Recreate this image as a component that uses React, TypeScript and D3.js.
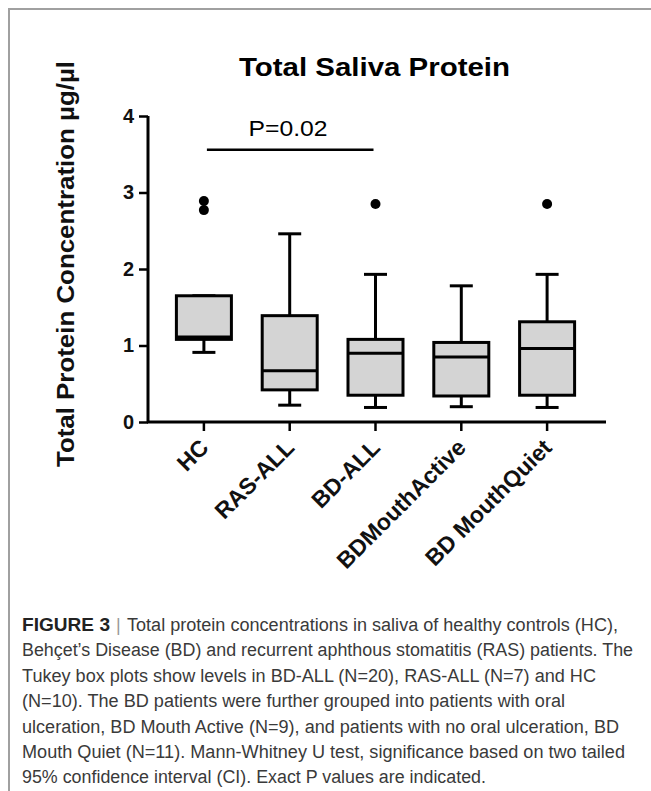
import React, { useEffect, useRef } from "react";
import * as d3 from "d3";

// groups and box summary values (µg/µl)
const groups = ["HC", "RAS-ALL", "BD-ALL", "BDMouthActive", "BD MouthQuiet"];
const lowWhisker = [0.91, 0.22, 0.19, 0.2, 0.19];
const q1 = [1.08, 0.42, 0.35, 0.34, 0.35];
const median = [1.11, 0.67, 0.9, 0.85, 0.96];
const q3 = [1.65, 1.39, 1.08, 1.04, 1.31];
const highWhisker = [1.65, 2.46, 1.93, 1.78, 1.93];
const outliers = [[2.77, 2.89], [], [2.85], [], [2.85]];
const yTicks = [0, 1, 2, 3, 4];

const sigFrom = "HC";
const sigTo = "BD-ALL";
const sigY = 3.56;
const sigLabel = "P=0.02";

const captionHead = "FIGURE 3";
const captionLines = [
  "Total protein concentrations in saliva of healthy controls (HC),",
  "Behçet’s Disease (BD) and recurrent aphthous stomatitis (RAS) patients. The",
  "Tukey box plots show levels in BD-ALL (N=20), RAS-ALL (N=7) and HC",
  "(N=10). The BD patients were further grouped into patients with oral",
  "ulceration, BD Mouth Active (N=9), and patients with no oral ulceration, BD",
  "Mouth Quiet (N=11). Mann-Whitney U test, significance based on two tailed",
  "95% confidence interval (CI). Exact P values are indicated.",
];
// right end of each caption line in the reference
const captionEnds = [618, 633, 596, 565, 619, 625, 486];

const W = 651;
const H = 791;
const FONT = "'Liberation Sans', Arial, Helvetica, sans-serif";

const BoxPlot = () => {
  const ref = useRef(null);

  useEffect(() => {
    const svg = d3.select(ref.current);
    svg.selectAll("*").remove();

    const x = d3.scaleBand().domain(groups).range([161, 590]).padding(0);
    const y = d3.scaleLinear().domain([0, 4]).range([422, 116]);
    const cx = (g) => x(g) + x.bandwidth() / 2;
    const boxW = 55;
    const capW = 23;

    // figure frame (top + left rule)
    svg.append("path")
      .attr("d", `M9,${H} V9 H${W}`)
      .attr("fill", "none")
      .attr("stroke", "#a0a0a0")
      .attr("stroke-width", 2);

    // title
    svg.append("text")
      .attr("x", 374.5)
      .attr("y", 76)
      .attr("text-anchor", "middle")
      .attr("font-family", FONT)
      .attr("font-weight", "bold")
      .attr("font-size", 25)
      .attr("textLength", 271)
      .attr("lengthAdjust", "spacingAndGlyphs")
      .text("Total Saliva Protein");

    // y axis
    const yAxis = svg.append("g")
      .attr("transform", "translate(148,0)")
      .call(d3.axisLeft(y).tickValues(yTicks).tickSize(9).tickPadding(5).tickFormat(d3.format("d")));
    yAxis.select(".domain").attr("stroke-width", 3).attr("d", `M0,${y(4)}V${y(0)}`);
    yAxis.selectAll(".tick line").attr("stroke-width", 2.5);
    yAxis.selectAll(".tick text")
      .attr("font-family", FONT)
      .attr("font-weight", "bold")
      .attr("font-size", 20)
      .attr("fill", "#111");

    // y label
    svg.append("text")
      .attr("transform", "translate(74,264) rotate(-90)")
      .attr("text-anchor", "middle")
      .attr("font-family", FONT)
      .attr("font-weight", "bold")
      .attr("font-size", 23)
      .attr("textLength", 406)
      .attr("lengthAdjust", "spacingAndGlyphs")
      .attr("fill", "#111")
      .text("Total Protein Concentration µg/µl");

    // x axis
    svg.append("line")
      .attr("x1", 147).attr("x2", 606)
      .attr("y1", y(0)).attr("y2", y(0))
      .attr("stroke", "#000").attr("stroke-width", 3);
    const xg = svg.append("g");
    groups.forEach((g) => {
      xg.append("line")
        .attr("x1", cx(g)).attr("x2", cx(g))
        .attr("y1", y(0)).attr("y2", y(0) + 9)
        .attr("stroke", "#000").attr("stroke-width", 2.5);
      xg.append("text")
        .attr("transform", `translate(${cx(g) + 6},${y(0) + 27}) rotate(-45)`)
        .attr("text-anchor", "end")
        .attr("font-family", FONT)
        .attr("font-weight", "bold")
        .attr("font-size", 23)
        .attr("fill", "#111")
        .text(g);
    });

    // boxes
    const boxes = svg.append("g");
    groups.forEach((g, i) => {
      const c = cx(g);
      const b = boxes.append("g").attr("stroke", "#000").attr("stroke-width", 3);
      b.append("line")
        .attr("x1", c).attr("x2", c)
        .attr("y1", y(highWhisker[i])).attr("y2", y(q3[i]));
      b.append("line")
        .attr("x1", c).attr("x2", c)
        .attr("y1", y(q1[i])).attr("y2", y(lowWhisker[i]));
      b.append("line")
        .attr("x1", c - capW / 2).attr("x2", c + capW / 2)
        .attr("y1", y(highWhisker[i])).attr("y2", y(highWhisker[i]));
      b.append("line")
        .attr("x1", c - capW / 2).attr("x2", c + capW / 2)
        .attr("y1", y(lowWhisker[i])).attr("y2", y(lowWhisker[i]));
      b.append("rect")
        .attr("x", c - boxW / 2)
        .attr("width", boxW)
        .attr("y", y(q3[i]))
        .attr("height", y(q1[i]) - y(q3[i]))
        .attr("fill", "#d4d4d4");
      b.append("line")
        .attr("x1", c - boxW / 2).attr("x2", c + boxW / 2)
        .attr("y1", y(median[i])).attr("y2", y(median[i]));
      outliers[i].forEach((v) => {
        boxes.append("circle")
          .attr("cx", c)
          .attr("cy", y(v))
          .attr("r", 5)
          .attr("fill", "#000");
      });
    });

    // significance bar
    svg.append("line")
      .attr("x1", cx(sigFrom) + 3).attr("x2", cx(sigTo) - 2)
      .attr("y1", y(sigY)).attr("y2", y(sigY))
      .attr("stroke", "#000").attr("stroke-width", 2.5);
    svg.append("text")
      .attr("x", 288)
      .attr("y", y(sigY) - 14)
      .attr("text-anchor", "middle")
      .attr("font-family", FONT)
      .attr("font-size", 22)
      .attr("textLength", 79)
      .attr("lengthAdjust", "spacingAndGlyphs")
      .text(sigLabel);

    // caption
    const cap = svg.append("g")
      .attr("font-family", FONT)
      .attr("font-size", 18)
      .attr("fill", "#3a3a3a");
    const capY = (i) => 631 + i * 25.4;
    cap.append("text")
      .attr("x", 22)
      .attr("y", capY(0))
      .attr("font-weight", "bold")
      .attr("fill", "#222")
      .attr("textLength", 88)
      .attr("lengthAdjust", "spacingAndGlyphs")
      .text(captionHead);
    cap.append("text")
      .attr("x", 116)
      .attr("y", capY(0))
      .attr("fill", "#999")
      .text("|");
    captionLines.forEach((line, i) => {
      const x0 = i === 0 ? 127 : 22;
      cap.append("text")
        .attr("x", x0)
        .attr("y", capY(i))
        .attr("textLength", captionEnds[i] - x0)
        .attr("lengthAdjust", "spacingAndGlyphs")
        .text(line);
    });
  }, []);

  return (
    <svg
      ref={ref}
      width={W}
      height={H}
      style={{ position: "absolute", left: 0, top: 0, background: "#fff" }}
    ></svg>
  );
};

export default function App() {
  return <BoxPlot />;
}
